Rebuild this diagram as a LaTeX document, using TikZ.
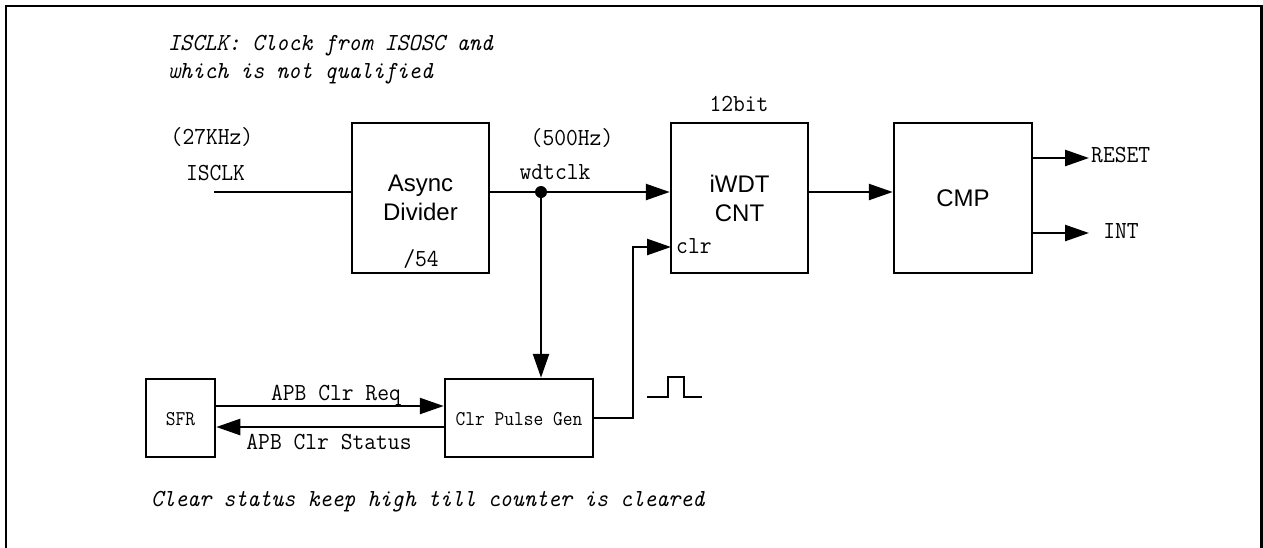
\documentclass[tikz,border=0pt]{standalone}
\usepackage{fontspec}
\newfontfamily\arialf{Liberation Sans}
\newfontfamily\monof[FakeStretch=0.935]{Latin Modern Mono}
\newfontfamily\smonof[FakeStretch=0.9]{Latin Modern Mono}
\usetikzlibrary{arrows.meta,calc}
\tikzset{
  box/.style={draw, line width=2.5pt, inner sep=0pt, font=\arialf\fontsize{24}{29}\selectfont, align=center},
  mono/.style={inner sep=0pt, font=\monof\fontsize{24.5}{29}\selectfont},
  smallmono/.style={inner sep=0pt, font=\smonof\fontsize{21}{25}\selectfont},
  itmono/.style={inner sep=0pt, font=\monof\itshape\fontsize{24.5}{29}\selectfont},
  wire/.style={line width=2.5pt},
  arr/.style={line width=2.5pt, -{Triangle[length=24pt,width=16pt]}},
}
\begin{document}
\begin{tikzpicture}[x=1pt,y=-1pt]
\useasboundingbox (0,0) rectangle (1263,547);
% frame
\draw[line width=2.6pt] (6,560) -- (6,6) -- (1261.5,6) -- (1261.5,560);

% blocks
\node[box, minimum width=137pt, minimum height=150pt] (div) at (420.5,198) {Async\\Divider};
\node[box, minimum width=137pt, minimum height=150pt] (cnt) at (739.5,198) {iWDT\\CNT};
\node[box, minimum width=138pt, minimum height=150pt] (cmp) at (963,198) {CMP};
\node[box, minimum width=69pt, minimum height=78pt] (sfr) at (180.5,418) {};
\node[box, minimum width=148pt, minimum height=78pt] (pg) at (519,418) {};

% texts
\node[itmono, anchor=base west] (t1) at (168,50) {ISCLK: Clock from ISOSC and};
\node[itmono, anchor=base west] (t2) at (168,78) {which is not qualified};
\node[itmono, anchor=base west] (t3) at (151,506) {Clear status keep high till counter is cleared};
\node[mono, anchor=base] (f27) at (212,144) {(27KHz)};
\node[mono, anchor=base] (isclkl) at (215.5,180) {ISCLK};
\node[mono, anchor=base] (d54) at (421,266) {/54};
\node[mono, anchor=base] (f500) at (572,145) {(500Hz)};
\node[mono, anchor=base] (wdt) at (555,179) {wdtclk};
\node[mono, anchor=base] (b12) at (739,111) {12bit};
\node[mono, anchor=base west] (clrl) at (676,253) {clr};
\node[mono, anchor=base west] (rst) at (1091,162) {RESET};
\node[mono, anchor=base] (intl) at (1121,238) {INT};
\node[mono, anchor=base] (req) at (336,400) {APB Clr Req};
\node[mono, anchor=base] (sts) at (329,449) {APB Clr Status};
\node[smallmono, anchor=base] (sfrl) at (sfr.center |- 0,425) {SFR};
\node[smallmono, anchor=base] (pgl) at (pg.center |- 0,425) {Clr Pulse Gen};

% coordinates
\coordinate (isclk) at (214,192);
\coordinate (dot) at (541,192);
\coordinate (bend) at (633,247);
\coordinate (clrin) at (671,247);
\coordinate (rsto) at (1089,158);
\coordinate (into) at (1089,233);
\coordinate (reqy) at (0,406);
\coordinate (stsy) at (0,427);

% connectors
\draw[wire] (isclk) -- (isclk -| div.west);
\draw[wire] (dot -| div.east) -- (dot);
\draw[arr] (dot) -- (dot -| cnt.west);
\draw[arr] (dot) -- (dot |- pg.north);
\fill (dot) circle (6pt);
\draw[arr] (cnt.east |- dot) -- (cmp.west |- dot);
\draw[arr] (rsto -| cmp.east) -- (rsto);
\draw[arr] (into -| cmp.east) -- (into);
\draw[arr] (pg.east) -| (bend) -- (clrin);
\draw[arr] (sfr.east |- reqy) -- (pg.west |- reqy);
\draw[arr] (pg.west |- stsy) -- (sfr.east |- stsy);

% pulse symbol
\draw[line width=2pt] (647,397) -- (668,397) -- (668,377) -- (684,377) -- (684,397) -- (702,397);
\end{tikzpicture}
\end{document}
